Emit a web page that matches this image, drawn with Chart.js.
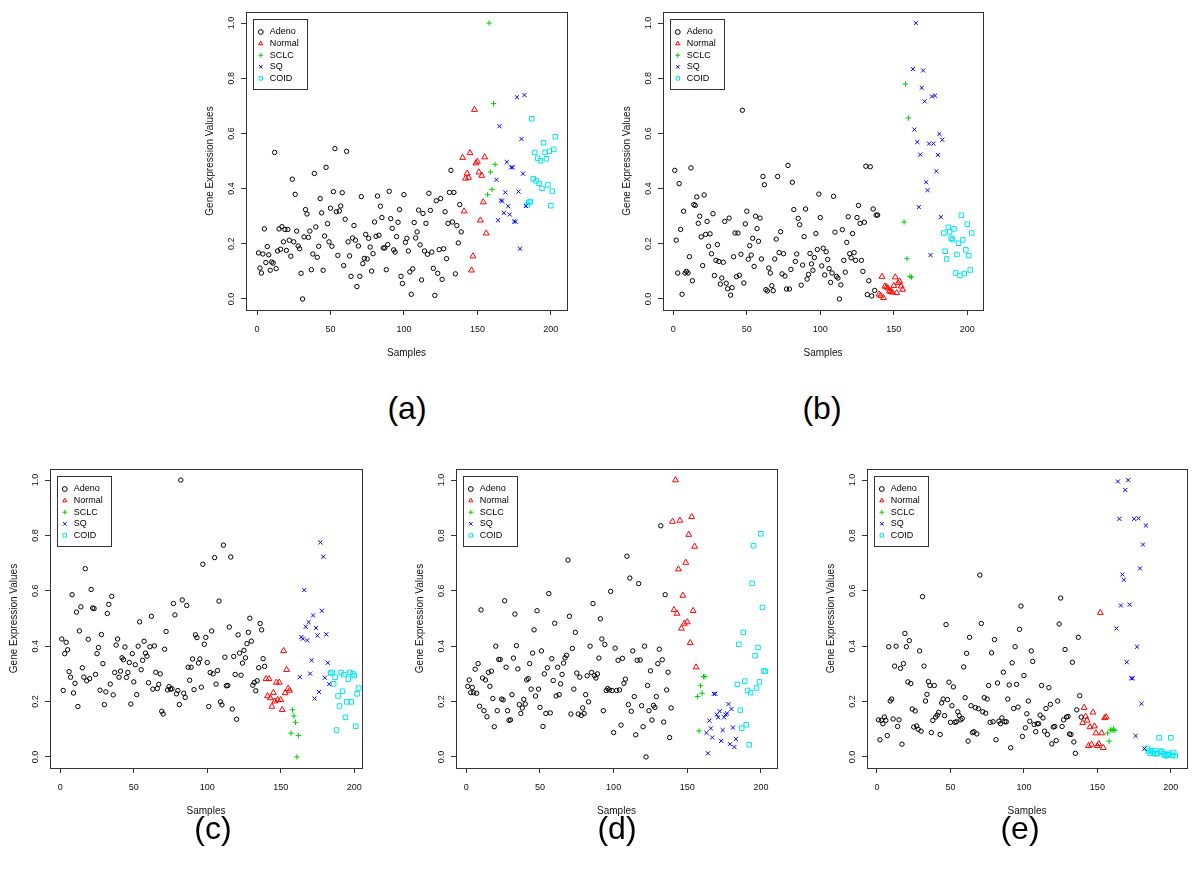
<!DOCTYPE html>
<html>
<head>
<meta charset="utf-8">
<script src="https://cdn.jsdelivr.net/npm/chart.js@4.4.0/dist/chart.umd.min.js"></script>
<style>
  body { margin: 0; background: #fff; width: 1200px; height: 884px; position: relative; overflow: hidden;
         font-family: "Liberation Sans", Arial, sans-serif; }
  .panel { position: absolute; }
  .cap { position: absolute; font-size: 32px; color: #000; transform: translate(-50%, -50%); }
</style>
</head>
<body>
<div class="panel" id="pa"><canvas id="ca"></canvas></div>
<div class="panel" id="pb"><canvas id="cb"></canvas></div>
<div class="panel" id="pc"><canvas id="cc"></canvas></div>
<div class="panel" id="pd"><canvas id="cd"></canvas></div>
<div class="panel" id="pe"><canvas id="ce"></canvas></div>
<div class="cap" style="left:407px;top:408px">(a)</div>
<div class="cap" style="left:822px;top:408px">(b)</div>
<div class="cap" style="left:213px;top:828px">(c)</div>
<div class="cap" style="left:617px;top:828px">(d)</div>
<div class="cap" style="left:1020px;top:828px">(e)</div>
<script>
const groupNames = ['Adeno', 'Normal', 'SCLC', 'SQ', 'COID'];
const groupStart = [1, 140, 157, 163, 184];   // sample index of first member
const xTickValues = [0, 50, 100, 150, 200];
const yTickValues = [0, 0.2, 0.4, 0.6, 0.8, 1.0];

// panel (a)
const adenoA = [.167,.112,.094,.163,.254,.132,.19,.16,.104,.134,
  .13,.531,.11,.174,.254,.18,.262,.207,.252,.176,
  .252,.213,.155,.434,.207,.379,.246,.192,.182,.093,
  0,.225,.324,.308,.223,.246,.106,.163,.455,.261,
  .151,.191,.364,.312,.104,.228,.477,.273,.207,.329,
  .191,.389,.545,.316,.158,.319,.337,.385,.121,.289,
  .535,.207,.156,.082,.221,.266,.213,.045,.192,.082,
  .371,.128,.147,.234,.145,.22,.188,.101,.164,.279,
  .227,.373,.231,.336,.295,.185,.185,.106,.197,.39,
  .291,.256,.178,.17,.226,.278,.324,.082,.056,.378,
  .205,.22,.174,.098,.017,.109,.277,.221,.243,.322,
  .196,.069,.31,.174,.274,.162,.383,.321,.17,.111,
  .013,.356,.093,.179,.364,.071,.182,.316,.146,.274,
  .386,.466,.279,.386,.091,.266,.203,.342,.243];
const normalA = [.512,.318,.437,.455,.44,.529,.104,.155,.686,.492,.498,.459,.285,.447,.351,.514,.238];
const sclcA = [.378,1.0,.46,.397,.708,.488];
const sqA = [.432,.285,.626,.357,.355,.312,.386,.496,.336,.306,.477,.477,.281,.28,.731,.389,.182,.58,.454,.739,.337];
const coidA = [.341,.35,.353,.653,.436,.531,.428,.51,.419,.501,.401,.566,.531,.508,.413,.535,.338,.391,.542,.588];

// panel (b)
const adenoB = [.466,.213,.094,.418,.252,.017,.318,.094,.1,.094,
  .153,.475,.066,.342,.339,.37,.274,.3,.225,.121,
  .377,.234,.281,.191,.236,.164,.309,.085,.14,.197,
  .136,.054,.076,.133,.281,.057,.037,.293,.014,.041,
  .153,.239,.081,.239,.086,.162,.684,.058,.272,.318,
  .144,.193,.159,.22,.118,.3,.255,.209,.293,.145,
  .444,.414,.034,.029,.112,.094,.048,.03,.145,.217,
  .444,.168,.244,.091,.164,.083,.036,.484,.036,.107,
  .423,.324,.136,.163,.292,.269,.05,.123,.226,.326,
  .072,.089,.165,.127,.104,.15,.237,.179,.38,.295,
  .12,.184,.087,.171,.143,.11,.06,.094,.372,.242,
  .082,.076,0,.051,.251,.14,.097,.205,.298,.164,
  .149,.237,.168,.14,.295,.339,.274,.14,.1,.278,
  .481,.016,.066,.479,.011,.326,.031,.304,.304];
const normalB = [.017,.012,.081,.004,.046,.043,.039,.028,.027,.024,.048,.079,.022,.058,.064,.046,.034];
const sclcB = [.279,.779,.146,.656,.082,.079];
const sqB = [.833,.614,1.0,.569,.333,.523,.765,.828,.716,.423,.394,.563,.159,.734,.563,.737,.463,.522,.598,.297,.577];
const coidB = [.239,.173,.145,.26,.243,.22,.215,.254,.094,.161,.202,.085,.303,.214,.092,.178,.271,.157,.105,.239];

// panel (c)
const adenoC = [.426,.24,.373,.414,.387,.308,.288,.586,.231,.266,
  .523,.182,.455,.542,.322,.288,.68,.275,.425,.283,
  .605,.538,.536,.298,.373,.395,.241,.442,.337,.189,
  .235,.518,.551,.263,.58,.224,.305,.404,.426,.288,
  .31,.358,.351,.397,.287,.305,.341,.191,.373,.271,
  .333,.225,.4,.488,.315,.349,.418,.375,.364,.268,
  .398,.508,.245,.401,.306,.247,.262,.3,.165,.155,
  .389,.453,.242,.254,.245,.246,.554,.513,.228,
  .24,.189,1.0,.567,.23,.215,.547,.324,.277,.324,
  .354,.243,.441,.431,.339,.354,.252,.696,.407,.432,
  .341,.182,.305,.455,.3,.72,.263,.312,.563,.199,
  .188,.765,.36,.257,.258,.469,.722,.173,.363,.298,
  .136,.441,.375,.295,.339,.385,.358,.409,.45,.501,
  .418,.259,.269,.239,.275,.322,.482,.459,.355,.327];
const normalC = [.282,.22,.282,.213,.182,.232,.201,.269,.206,.269,.206,.17,.383,.231,.315,.247,.24];
const sclcC = [.086,.17,.148,.125,0,.077];
const sqC = [.288,.433,.427,.603,.47,.421,.487,.301,.349,.511,.211,.466,.438,.235,.775,.528,.723,.286,.443,.34,.263];
const coidC = [.303,.305,.264,.288,.097,.22,.184,.305,.237,.297,.143,.199,.281,.305,.199,.3,.294,.111,.228,.249];

// panel (d)
const adenoD = [.255,.278,.232,.251,.232,.317,.23,.337,.183,.531,
  .285,.167,.278,.145,.305,.255,.31,.211,.109,.4,
  .167,.352,.352,.209,.206,.564,.324,.167,.132,.134,
  .225,.357,.516,.402,.318,.189,.157,.177,.208,.191,
  .278,.283,.337,.245,.375,.459,.22,.528,.245,.179,
  .383,.11,.3,.157,.322,.59,.159,.355,.276,.483,
  .22,.324,.225,.264,.298,.339,.358,.367,.711,
  .508,.155,.392,.245,.45,.303,.155,.288,.15,.177,
  .157,.225,.293,.199,.4,.305,.554,.294,.285,.3,
  .357,.499,.426,.167,.406,.24,.247,.242,.598,.24,
  .088,.393,.24,.349,.242,.115,.356,.266,.281,.725,
  .189,.646,.165,.383,.218,.08,.349,.626,.35,.185,
  .109,.4,0,.258,.167,.311,.133,.186,.179,.218,
  .337,.389,.835,.351,.126,.586,.242,.306,.07,.177];
const normalD = [.85,.531,1.0,.518,.678,.854,.464,.583,.482,.702,.487,.803,.412,.867,.528,.76,.324];
const sclcD = [.218,.094,.257,.23,.29,.29];
const sqD = [.087,.013,.131,.103,.07,.228,.228,.153,.143,.165,.058,.097,.143,.153,.157,.191,.046,.173,.106,.036,.065];
const coidD = [.262,.407,.169,.104,.45,.274,.116,.24,.044,.232,.627,.763,.366,.249,.395,.271,.806,.54,.31,.31];

// panel (e)
const adenoE = [.134,.062,.132,.12,.144,.132,.077,.398,.202,
  .209,.137,.328,.4,.11,.134,.32,.046,.337,.446,
  .398,.271,.42,.265,.173,.108,.166,.112,.1,.383,
  .093,.579,.328,.202,.226,.272,.258,.088,.132,.258,
  .144,.151,.161,.081,.195,.209,.149,.478,.207,.27,
  .125,.185,.253,.125,.127,.163,.149,.134,.139,.325,
  .214,.374,.057,.432,.185,.088,.091,.178,.083,.174,
  .657,.482,.163,.214,.158,.209,.258,.125,.376,.127,
  .424,.062,.267,.129,.12,.141,.306,.127,.127,.209,
  .26,.033,.34,.175,.398,.262,.18,.461,.545,.074,
  .294,.105,.156,.202,.129,.383,.345,.117,.091,.12,
  .12,.151,.258,.141,.093,.175,.081,.25,.19,
  .047,.108,.11,.059,.202,.48,.574,.11,.134,.388,
  .144,.146,.083,.081,.342,.054,.013,.17,.432,.221,.144];
const normalE = [.123,.178,.146,.132,.04,.108,.045,.161,.111,.086,.04,.047,.521,.086,.033,.141,.144];
const sclcE = [.086,.057,.098,.096,.1,.096];
const sqE = [.464,.995,.86,.547,.659,.64,.964,.342,1.0,.55,.284,.284,.86,.076,.398,.862,.681,.192,.767,.03,.836];
const coidE = [.031,.021,.013,.022,.013,.023,.011,.013,.069,.021,.018,.011,.006,.004,.008,.013,.069,.006,.016,.004];

const fontFamily = '"Liberation Sans", Arial, sans-serif';
Chart.defaults.font.family = fontFamily;

const pointStyles = ['circle', 'triangle', 'cross', 'crossRot', 'rect'];
const colors = ['#000000', '#ff0000', '#00cd00', '#0000ff', '#00e5ee'];
const radii = [2.2, 3.4, 2.7, 2.9, 3.2];

// plot boxes in page pixels, x range as in the R plots
const panels = [
  {id: 'a', box: {l: 246, t: 12, r: 567, b: 310}, xr: [-7.5, 211], groups: [adenoA, normalA, sclcA, sqA, coidA]},
  {id: 'b', box: {l: 663, t: 12, r: 983, b: 310}, xr: [-7, 210.7], groups: [adenoB, normalB, sclcB, sqB, coidB]},
  {id: 'c', box: {l: 50, t: 469, r: 362, b: 768}, xr: [-7, 205.3], groups: [adenoC, normalC, sclcC, sqC, coidC]},
  {id: 'd', box: {l: 456, t: 469, r: 777, b: 768}, xr: [-7, 210.9], groups: [adenoD, normalD, sclcD, sqD, coidD]},
  {id: 'e', box: {l: 867, t: 469, r: 1187, b: 768}, xr: [-6.8, 211], groups: [adenoE, normalE, sclcE, sqE, coidE]}
];

const Y_AXIS_W = 50, X_AXIS_H = 60, PAD_TOP = 12, PAD_RIGHT = 14;

// box round the plot, legend frame, and legend moved inside it
const framePlugin = {
  id: 'frame',
  beforeDraw(chart) {
    const {ctx, chartArea: a} = chart;
    const lg = chart.legend;
    lg.left = a.left + 7.7;
    lg.top = a.top + 12.9;
    lg.right = lg.left + lg.width;
    lg.bottom = lg.top + lg.height;

    ctx.save();
    ctx.strokeStyle = '#333';
    ctx.lineWidth = 1;
    ctx.strokeRect(Math.round(a.left) + 0.5, Math.round(a.top) + 0.5,
      Math.round(a.right - a.left), Math.round(a.bottom - a.top));
    ctx.fillStyle = '#fff';
    ctx.fillRect(Math.round(a.left) + 7.5, Math.round(a.top) + 7.5, 54, 70);
    ctx.strokeRect(Math.round(a.left) + 7.5, Math.round(a.top) + 7.5, 54, 70);
    ctx.restore();
  }
};

panels.forEach(p => {
  const w = (p.box.r - p.box.l) + Y_AXIS_W + PAD_RIGHT;
  const h = (p.box.b - p.box.t) + PAD_TOP + X_AXIS_H;
  const div = document.getElementById('p' + p.id);
  div.style.left = (p.box.l - Y_AXIS_W) + 'px';
  div.style.top = (p.box.t - PAD_TOP) + 'px';
  const canvas = document.getElementById('c' + p.id);
  canvas.width = w; canvas.height = h;
  canvas.style.width = w + 'px'; canvas.style.height = h + 'px';

  const datasets = p.groups.map((ys, g) => ({
    label: groupNames[g],
    data: ys.map((y, i) => ({x: groupStart[g] + i, y: y})),
    pointStyle: pointStyles[g],
    borderColor: colors[g],
    backgroundColor: 'rgba(0,0,0,0)',
    borderWidth: 1,
    pointBorderWidth: 1,
    pointRadius: radii[g],
    pointHoverRadius: radii[g]
  }));

  new Chart(canvas.getContext('2d'), {
    type: 'scatter',
    data: {datasets: datasets},
    options: {
      responsive: false,
      animation: false,
      devicePixelRatio: 1,
      events: [],
      layout: {padding: {top: PAD_TOP, right: PAD_RIGHT, left: 0, bottom: 0}},
      plugins: {
        legend: {
          position: 'chartArea',
          align: 'start',
          labels: {
            usePointStyle: true,
            boxWidth: 16,
            boxHeight: 3.4,
            padding: 2.6,
            color: '#000',
            font: {size: 9, family: fontFamily}
          }
        },
        tooltip: {enabled: false}
      },
      scales: {
        x: {
          type: 'linear',
          min: p.xr[0],
          max: p.xr[1],
          afterBuildTicks: s => { s.ticks = xTickValues.map(v => ({value: v})); },
          afterFit: s => { s.height = X_AXIS_H; },
          border: {display: false},
          grid: {drawOnChartArea: false, drawTicks: true, tickLength: 5, color: '#333'},
          ticks: {autoSkip: false, maxRotation: 0, padding: 9.5, color: '#111', font: {size: 9}},
          title: {display: true, text: 'Samples', color: '#111', font: {size: 10}, padding: {top: 0, bottom: 11}}
        },
        y: {
          type: 'linear',
          min: -0.04,
          max: 1.04,
          afterBuildTicks: s => { s.ticks = yTickValues.map(v => ({value: v})); },
          afterFit: s => { s.width = Y_AXIS_W; },
          border: {display: false},
          grid: {drawOnChartArea: false, drawTicks: true, tickLength: 5, color: '#333'},
          ticks: {
            autoSkip: false, minRotation: 90, maxRotation: 90, crossAlign: 'center',
            padding: 3, color: '#111', font: {size: 9},
            callback: v => v.toFixed(1)
          },
          title: {display: true, text: 'Gene Expression Values', color: '#111', font: {size: 10}, padding: {top: 8, bottom: 0}}
        }
      }
    },
    plugins: [framePlugin]
  });
});
</script>
</body>
</html>
